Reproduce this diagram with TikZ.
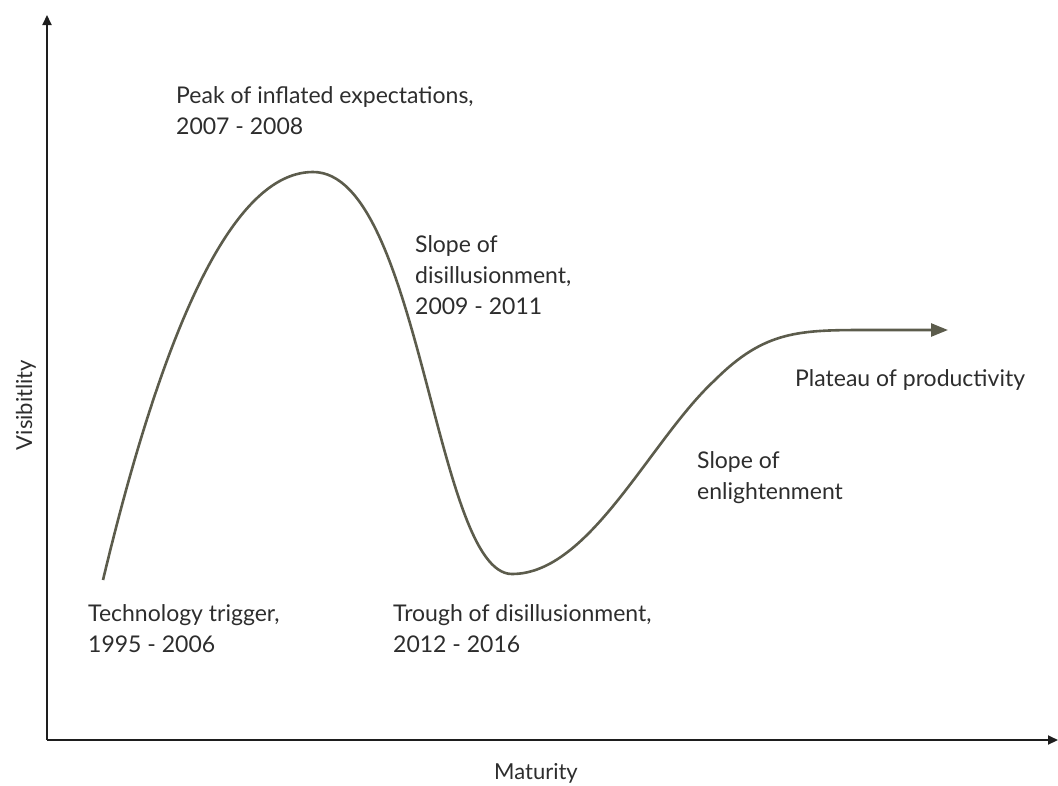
\documentclass[tikz,border=0pt]{standalone}
\usepackage{fontspec}
\setmainfont{Lato}
\usepackage{tikz}
\usetikzlibrary{arrows.meta}
\definecolor{axisgray}{RGB}{30,30,30}
\definecolor{hypeolive}{RGB}{92,92,76}
\definecolor{labelgray}{RGB}{45,45,45}

\begin{document}
\begin{tikzpicture}[x=1pt,y=-1pt,
  axis/.style={line width=2pt,axisgray,-{Triangle[length=10pt,width=9pt]}},
  hype/.style={line width=2.6pt,hypeolive,-{Triangle[length=17pt,width=13pt]}},
  phase/.style={anchor=base west,labelgray,font=\fontsize{23}{31}\selectfont,align=left,inner sep=0pt}]
\useasboundingbox (0,0) rectangle (1058,785);
% axes
\coordinate (origin) at (47,740);
\coordinate (ytop) at (47,15);
\coordinate (xend) at (1058,740);
\draw[axis] (origin) -- (ytop);
\draw[axis] (origin) -- (xend);
\node[labelgray,font=\fontsize{22}{24}\selectfont,anchor=base] (xlabel) at (536,779) {Maturity};
\node[labelgray,font=\fontsize{22}{24}\selectfont,anchor=base,rotate=90] (ylabel) at (32,405) {Visibitlity};
% the hype curve
\draw[hype] (103,580) .. controls (170,300) and (240,172) .. (313,172)
  .. controls (420,172) and (435,574) .. (512,574)
  .. controls (590,574) and (650,440) .. (715,380)
  .. controls (765,330) and (800,330) .. (870,330) -- (948,330);
% phases (base = last line)
\node[phase] (trigger) at (88,652) {Technology trigger,\\1995 - 2006};
\node[phase] (peak) at (176,134) {Peak of inflated expectations,\\2007 - 2008};
\node[phase] (slopedis) at (415,314) {Slope of\\disillusionment,\\2009 - 2011};
\node[phase] (trough) at (393,652) {Trough of disillusionment,\\2012 - 2016};
\node[phase] (slopeenl) at (697,499) {Slope of\\enlightenment};
\node[phase] (plateau) at (795,386) {Plateau of productivity};
\end{tikzpicture}
\end{document}
